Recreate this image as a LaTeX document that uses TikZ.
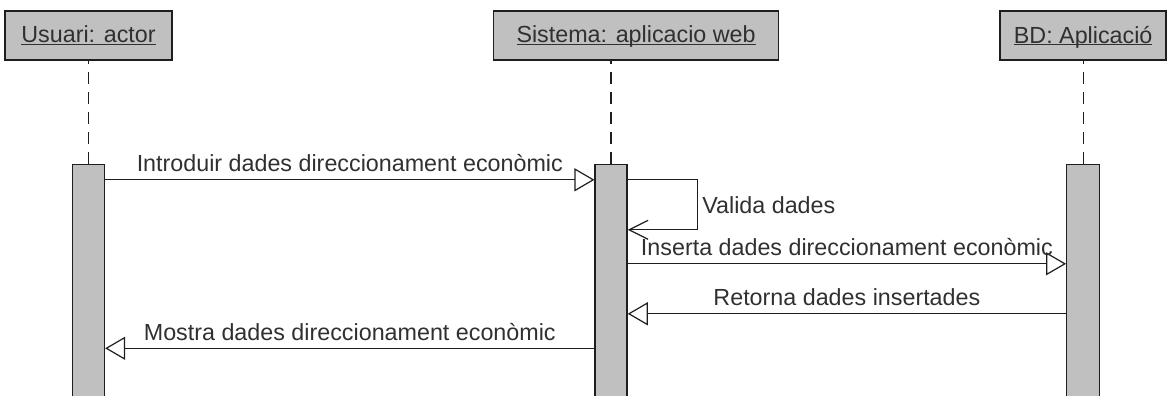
\documentclass[tikz,border=0pt]{standalone}
\usepackage{fontspec}
\setmainfont{Liberation Sans}
\usetikzlibrary{arrows.meta,positioning}

\definecolor{boxgray}{HTML}{C0C0C0}
\definecolor{linegray}{HTML}{1E1E1E}
\definecolor{txtgray}{HTML}{303030}
\newcommand{\objname}[1]{\underline{\raisebox{0pt}[\height][0pt]{#1}}}

\begin{document}
\begin{tikzpicture}[x=1pt,y=1pt,font=\fontsize{23.3}{28}\selectfont,text=txtgray]
\tikzstyle{head}=[rectangle,draw=linegray,line width=1.6pt,fill=boxgray,minimum height=49pt,inner sep=0pt]
\tikzstyle{bar}=[rectangle,draw=linegray,line width=1.3pt,fill=boxgray,minimum width=32pt,minimum height=240pt,anchor=north]
\tikzstyle{life}=[draw=linegray,line width=1.3pt,dash pattern=on 12pt off 8pt]
\tikzstyle{msg}=[color=linegray,line width=1.2pt,-{Triangle[open,length=20pt,width=23pt]}]
\tikzstyle{self}=[draw=linegray,line width=1.2pt,-{Straight Barb[length=19pt,width=19pt]}]
\tikzstyle{lbl}=[above,inner sep=0pt,yshift=7pt,text=txtgray]

\useasboundingbox (0,0) rectangle (1171,396);

\begin{scope}
    % Objects
    \node [head,minimum width=167pt] at (88.5,360.5) (usr_box) {\objname{Usuari: actor}};
    \node [head,minimum width=285pt,right=320pt of usr_box] (sys_box) {\objname{Sistema: aplicacio web}};
    \node [head,minimum width=166pt,right=220pt of sys_box] (bd_box) {\objname{BD: Aplicació}};

    % Activations
    \node [bar,below=103pt of usr_box] (usr_bar) {};
    \node [bar,below=103pt of sys_box,xshift=-25pt] (sys_bar) {};
    \node [bar,below=103pt of bd_box,minimum width=33pt] (bd_bar) {};

    % Lifelines
    \draw [life] (usr_bar.north) -- (usr_bar.north |- usr_box.south);
    \draw [life] (sys_bar.north) -- (sys_bar.north |- sys_box.south);
    \draw [life] (bd_bar.north) -- (bd_bar.north |- bd_box.south);

    % Messages
    \path [msg] ([yshift=-16pt]usr_bar.north east) edge node [lbl] {Introduir dades direccionament econòmic} ([yshift=-16pt]sys_bar.north west);
    \draw [self] ([yshift=-16pt]sys_bar.north east) -- ++(70,0) -- node [right,inner sep=4pt] {Valida dades} ++(0,-50) -- ([yshift=-66pt]sys_bar.north east);
    \path [msg] ([yshift=-100pt]sys_bar.north east) edge node [lbl] {Inserta dades direccionament econòmic} ([yshift=-100pt]bd_bar.north west);

    % Replies
    \path [msg] ([yshift=-150pt]bd_bar.north west) edge node [lbl] {Retorna dades insertades} ([yshift=-150pt]sys_bar.north east);
    \path [msg] ([yshift=-184.5pt]sys_bar.north west) edge node [lbl] {Mostra dades direccionament econòmic} ([yshift=-184.5pt]usr_bar.north east);
\end{scope}

\end{tikzpicture}
\end{document}
